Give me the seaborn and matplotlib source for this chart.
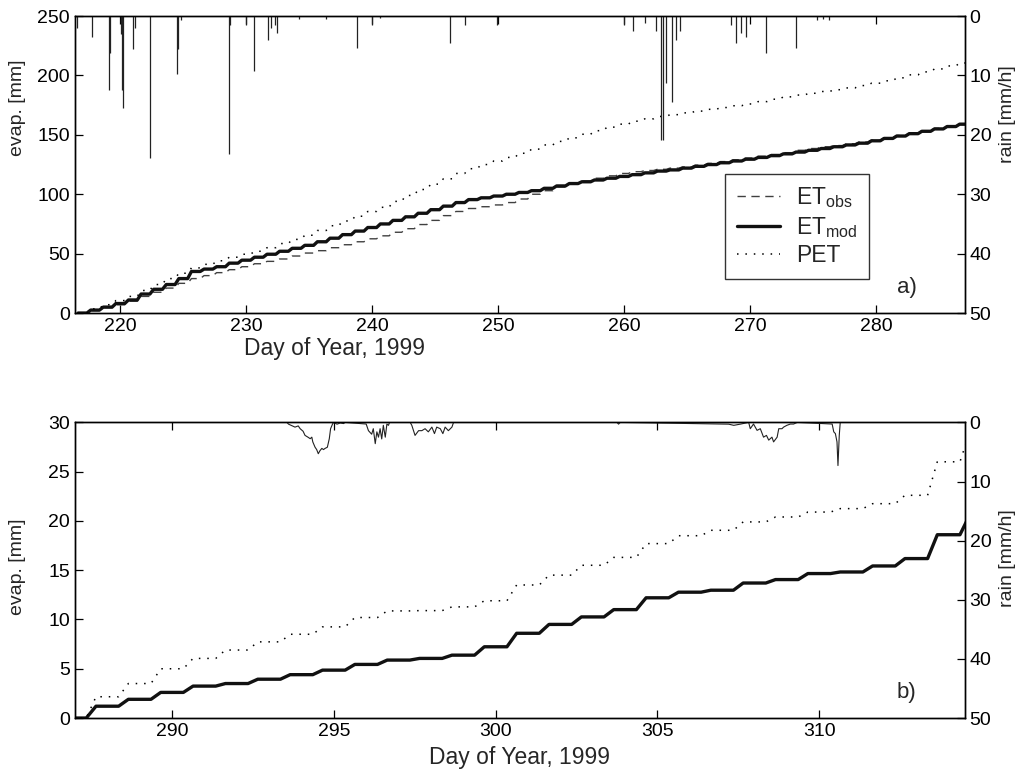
import numpy as np
import pandas as pd
import seaborn as sns
import matplotlib.pyplot as plt

# ---- panel a: cumulative evaporation [mm], value at end of each day ----
days_a = list(range(216, 288))
et_mod_a = [0, 2.5, 5, 8, 11, 16, 20, 24, 29, 35, 37, 39, 42, 44.5, 47, 49.5,
            52, 54.5, 57, 60, 63, 66, 69, 72, 75, 78, 81, 84, 87, 90, 93, 95.5,
            97, 98.5, 100, 101.5, 103, 105, 107, 109, 110.5, 112, 113.5, 115,
            116.5, 118, 119.5, 120.5, 122, 123.5, 125, 126.5, 128, 129.5, 131,
            132.5, 134, 135.5, 137, 138.5, 140, 141.5, 143, 145, 147, 149, 151,
            153, 155, 157, 159, 161]
et_obs_a = [0, 2, 4.5, 7, 10, 14, 17.5, 21, 25, 29, 31.5, 34, 36.5, 39, 41.5,
            43.5, 45.5, 48, 50.5, 52.5, 55, 57.5, 60, 62.5, 65, 68, 71, 74.5, 78,
            82, 85.5, 88, 89.5, 91, 93, 96, 100, 103, 106, 108.5, 111, 113.5,
            115.5, 117.5, 119, 120, 121, 122, 123, 124.5, 126, 127.5, 129, 130.5,
            132, 133.5, 135, 137, 138.5, 140, 141, 142.5, 144, 145.5, 147.5,
            149.5, 151.5, 153.5, 155.5, 157, 158.5, 160]
pet_a = [0, 3.5, 7, 10.5, 14, 19, 24, 29, 33.5, 38, 41, 44, 47, 49.5, 52, 55,
         58.5, 62, 65.5, 69.5, 73.5, 77.5, 81.5, 85.5, 89, 94, 99, 104, 108.5,
         113, 117.5, 121.5, 125, 128, 131, 134.5, 138, 141.5, 144.5, 147.5,
         150.5, 153.5, 156.5, 159, 161.5, 163.5, 165.5, 167, 168.5, 170, 171.5,
         173, 174.5, 176, 178, 180, 182, 183.5, 185, 186.5, 188, 189.5, 191.5,
         193.5, 195.5, 198, 200.5, 203, 205.5, 208, 210.5, 213]

# rain spikes, panel a [mm/h]
rain_a_day = [216.53, 217.77, 219.10, 219.18, 220.03, 220.10, 220.23, 221.03,
              221.20, 222.35, 224.47, 224.55, 224.81, 228.60, 228.70, 229.95,
              230.63, 231.69, 232.00, 232.26, 232.46, 234.20, 236.30, 238.76,
              239.95, 240.60, 246.22, 247.40, 249.94, 259.97, 260.71, 261.70,
              262.57, 262.97, 263.10, 263.37, 263.84, 264.16, 264.42, 268.50,
              268.86, 269.30, 269.70, 271.30, 273.67, 275.30, 275.80, 276.30]
rain_a_mm = [2.0, 3.6, 12.5, 6.3, 3.0, 12.5, 15.5, 5.6,
             2.0, 23.9, 9.7, 5.6, 0.6, 23.2, 1.5, 1.5,
             9.3, 4.0, 2.0, 1.5, 2.8, 0.5, 0.5, 5.3,
             1.5, 0.3, 4.5, 1.5, 1.5, 1.5, 2.5, 1.2,
             2.5, 20.8, 20.8, 11.3, 14.4, 4.0, 2.5, 1.5,
             4.5, 2.8, 3.5, 6.2, 5.4, 0.7, 0.5, 0.7]

# ---- panel b ----
days_b = list(range(286, 315))
et_mod_b = [0, 1.2, 1.9, 2.6, 3.24, 3.5, 3.94, 4.4, 4.86, 5.44, 5.88, 6.05, 6.38,
            7.23, 8.6, 9.5, 10.26, 11.0, 12.2, 12.77, 12.97, 13.7, 14.05, 14.66,
            14.82, 15.43, 16.18, 18.6, 20.6]
pet_b = [0, 2.16, 3.5, 5.0, 6.05, 6.9, 7.73, 8.5, 9.25, 10.2, 10.87, 10.9, 11.28,
         11.9, 13.5, 14.5, 15.5, 16.3, 17.7, 18.5, 19.05, 19.9, 20.4, 20.9,
         21.25, 21.75, 22.6, 26.0, 29.0]

rain_b_day = [287.0, 293.55, 293.60, 293.80, 293.90, 293.96, 294.05, 294.11, 294.20,
              294.27, 294.32, 294.35, 294.42, 294.47, 294.52, 294.57, 294.63,
              294.68, 294.73, 294.80, 294.86, 294.90, 294.96, 294.99, 295.10,
              295.20, 295.30, 295.35, 296.00, 296.07, 296.17, 296.22, 296.28,
              296.33, 296.38, 296.43, 296.48, 296.53, 296.59, 296.64, 296.69,
              296.72, 297.36, 297.41, 297.51, 297.62, 297.72, 297.82, 297.92,
              298.03, 298.11, 298.18, 298.29, 298.37, 298.44, 298.54, 298.65,
              298.70, 303.75, 303.80, 303.85, 307.20, 307.36, 307.56, 307.82,
              307.87, 307.97, 308.08, 308.18, 308.28, 308.37, 308.44, 308.54,
              308.59, 308.70, 308.75, 308.85, 308.90, 309.00, 309.11, 309.21,
              309.32, 310.40, 310.45, 310.50, 310.55, 310.58, 310.62, 310.65,
              314.5]
rain_b_mm = [0, 0, 0.3, 0.8, 0.6, 1.07, 1.5, 2.2, 2.5,
             2.76, 2.5, 3.3, 4.2, 4.6, 5.3, 4.8, 4.4,
             4.6, 4.4, 4.2, 2.76, 1.07, 0.28, 0, 0.3,
             0.1, 0.2, 0, 0.28, 1.4, 2.0, 1.07, 3.6,
             1.6, 2.5, 1.07, 2.8, 0.5, 2.5, 0.28, 0.5,
             0, 0, 0.5, 2.2, 1.4, 1.4, 1.07, 1.6,
             0.8, 1.9, 0.8, 1.07, 1.9, 0.8, 1.4, 0.8,
             0, 0, 0.3, 0, 0.3, 0.5, 0.3, 0,
             1.07, 0.28, 1.35, 1.07, 2.5, 2.2, 3.0, 2.5,
             3.3, 2.5, 1.07, 1.07, 0.8, 0.5, 0.28, 0.28,
             0, 0.28, 1.6, 1.9, 3.3, 7.3, 2.2, 0,
             0]


def daily_steps(days, values):
    # flat during the night, rising during daytime
    xs, ys = [days[0] + 0.65], [values[0]]
    for i in range(1, len(days)):
        xs += [days[i] + 0.35, days[i] + 0.65]
        ys += [values[i - 1], values[i]]
    return pd.DataFrame({"day": xs, "evap": ys})


sns.set_style("ticks")
plt.rcParams["font.family"] = ["Liberation Sans", "DejaVu Sans"]
plt.rcParams["mathtext.fontset"] = "custom"
plt.rcParams["mathtext.rm"] = "Liberation Sans"
plt.rcParams["mathtext.it"] = "Liberation Sans"

fig = plt.figure(figsize=(10.24, 7.76), dpi=100)
ax_a = fig.add_axes([0.0732, 0.5966, 0.869, 0.3827])
ax_b = fig.add_axes([0.0732, 0.0747, 0.869, 0.381])

tick_kw = dict(direction="in", length=6, width=0.9, labelsize=14, colors="black")
lab_fs = 14
xlab_fs = 16.5

# ---- panel a ----
sns.lineplot(data=daily_steps(days_a, et_obs_a), x="day", y="evap", ax=ax_a,
             sort=False, estimator=None, color="#404040", lw=1.0,
             linestyle=(0, (6, 4)), label=r"ET$_{\mathrm{obs}}$")
sns.lineplot(data=daily_steps(days_a, et_mod_a), x="day", y="evap", ax=ax_a,
             sort=False, estimator=None, color="#111111", lw=2.4,
             label=r"ET$_{\mathrm{mod}}$")
sns.lineplot(data=daily_steps(days_a, pet_a), x="day", y="evap", ax=ax_a,
             sort=False, estimator=None, color="black", lw=1.1,
             linestyle=(0, (1, 4.5)), label="PET")
ax_a.set_xlim(216.4, 287.06)
ax_a.set_ylim(0, 250)
ax_a.set_yticks([0, 50, 100, 150, 200, 250])
ax_a.set_xticks(range(220, 290, 10))
ax_a.set_ylabel("evap. [mm]", fontsize=lab_fs)
ax_a.set_xlabel("Day of Year, 1999", fontsize=xlab_fs)
ax_a.tick_params(**tick_kw, top=True, right=True)
leg = ax_a.legend(loc="upper left", bbox_to_anchor=(0.731, 0.468), fontsize=16.5,
                  frameon=True, fancybox=False, edgecolor="black",
                  borderpad=0.5, labelspacing=0.2, handlelength=1.9,
                  handletextpad=0.7, borderaxespad=0)
leg.get_frame().set_linewidth(1.0)
ax_a.text(0.946, 0.05, "a)", transform=ax_a.transAxes, ha="right", va="bottom",
          fontsize=16)

ax_ar = ax_a.twinx()
ax_ar.vlines(rain_a_day, 0, rain_a_mm, color="#222222", lw=0.9)
ax_ar.set_ylim(50, 0)
ax_ar.set_yticks([0, 10, 20, 30, 40, 50])
ax_ar.set_ylabel("rain [mm/h]", fontsize=lab_fs)
ax_ar.tick_params(**tick_kw)

# ---- panel b ----
sns.lineplot(data=daily_steps(days_b, et_mod_b), x="day", y="evap", ax=ax_b,
             sort=False, estimator=None, color="#111111", lw=2.4)
sns.lineplot(data=daily_steps(days_b, pet_b), x="day", y="evap", ax=ax_b,
             sort=False, estimator=None, color="black", lw=1.1,
             linestyle=(0, (1, 4.5)))
ax_b.set_xlim(287.0, 314.5)
ax_b.set_ylim(0, 30)
ax_b.set_yticks(range(0, 35, 5))
ax_b.set_xticks(range(290, 315, 5))
ax_b.set_ylabel("evap. [mm]", fontsize=lab_fs)
ax_b.set_xlabel("Day of Year, 1999", fontsize=xlab_fs)
ax_b.tick_params(**tick_kw, top=True, right=True)
ax_b.text(0.946, 0.05, "b)", transform=ax_b.transAxes, ha="right", va="bottom",
          fontsize=16)

ax_br = ax_b.twinx()
sns.lineplot(x=rain_b_day, y=rain_b_mm, ax=ax_br, sort=False, estimator=None,
             color="#222222", lw=0.8)
ax_br.set_ylim(50, 0)
ax_br.set_yticks([0, 10, 20, 30, 40, 50])
ax_br.set_ylabel("rain [mm/h]", fontsize=lab_fs)
ax_br.tick_params(**tick_kw)

for ax in (ax_a, ax_ar, ax_b, ax_br):
    for sp in ax.spines.values():
        sp.set_linewidth(1.0)
        sp.set_color("black")

ax_a.xaxis.set_label_coords(0.292, -0.08)
ax_b.xaxis.set_label_coords(0.5, -0.095)
ax_a.yaxis.set_label_coords(-0.055, 0.69)
ax_b.yaxis.set_label_coords(-0.055, 0.51)
ax_ar.yaxis.set_label_coords(1.038, 0.67)
ax_br.yaxis.set_label_coords(1.038, 0.54)

fig.savefig("out.png", dpi=100)
